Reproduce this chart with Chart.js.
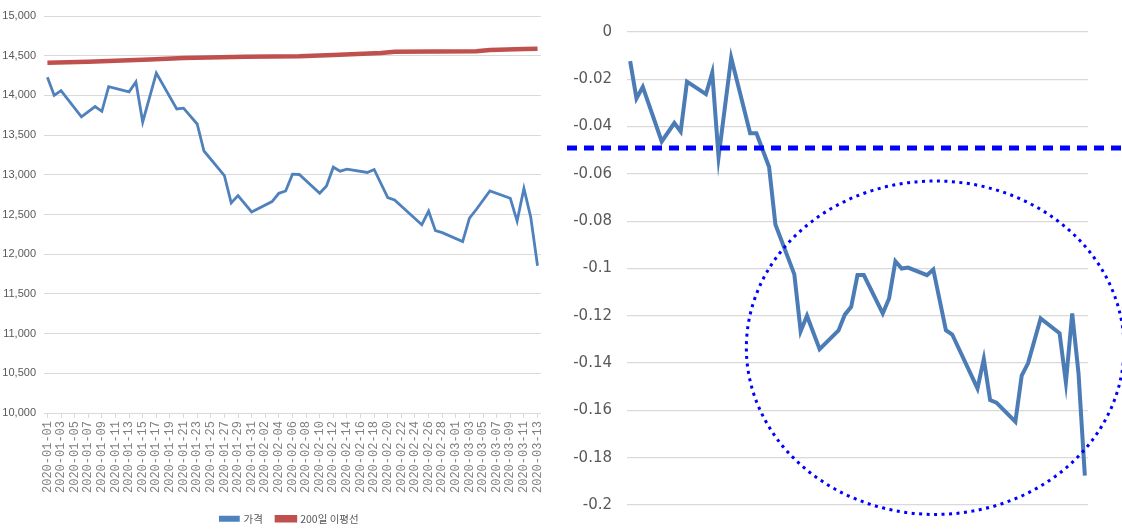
<!DOCTYPE html>
<html>
<head>
<meta charset="utf-8">
<script src="https://cdn.jsdelivr.net/npm/chart.js@4.4.1/dist/chart.umd.min.js"></script>
<style>
  html, body { margin: 0; padding: 0; background: #ffffff; }
  #wrap { position: relative; width: 1122px; height: 529px; overflow: hidden; }
  #leftBox { position: absolute; left: 0; top: 0; width: 555px; height: 529px; }
  #rightBox { position: absolute; left: 555px; top: 0; width: 567px; height: 529px; }
</style>
</head>
<body>
<div id="wrap">
  <div id="leftBox"><canvas id="left"></canvas></div>
  <div id="rightBox"><canvas id="right"></canvas></div>
</div>
<script>
// ---- Categories (calendar days on the date axis) ----
const calendarDays = [
  '2020-01-01','2020-01-02','2020-01-03','2020-01-04','2020-01-05','2020-01-06','2020-01-07','2020-01-08',
  '2020-01-09','2020-01-10','2020-01-11','2020-01-12','2020-01-13','2020-01-14','2020-01-15','2020-01-16',
  '2020-01-17','2020-01-18','2020-01-19','2020-01-20','2020-01-21','2020-01-22','2020-01-23','2020-01-24',
  '2020-01-25','2020-01-26','2020-01-27','2020-01-28','2020-01-29','2020-01-30','2020-01-31','2020-02-01',
  '2020-02-02','2020-02-03','2020-02-04','2020-02-05','2020-02-06','2020-02-07','2020-02-08','2020-02-09',
  '2020-02-10','2020-02-11','2020-02-12','2020-02-13','2020-02-14','2020-02-15','2020-02-16','2020-02-17',
  '2020-02-18','2020-02-19','2020-02-20','2020-02-21','2020-02-22','2020-02-23','2020-02-24','2020-02-25',
  '2020-02-26','2020-02-27','2020-02-28','2020-02-29','2020-03-01','2020-03-02','2020-03-03','2020-03-04',
  '2020-03-05','2020-03-06','2020-03-07','2020-03-08','2020-03-09','2020-03-10','2020-03-11','2020-03-12',
  '2020-03-13'
];

// ---- Left panel: price (가격) ----
const priceDates = [
  '2020-01-01','2020-01-02','2020-01-03','2020-01-06','2020-01-08','2020-01-09','2020-01-10','2020-01-13',
  '2020-01-14','2020-01-15','2020-01-17','2020-01-20','2020-01-21','2020-01-23','2020-01-24','2020-01-27',
  '2020-01-28','2020-01-29','2020-01-31','2020-02-03','2020-02-04','2020-02-05','2020-02-06','2020-02-07',
  '2020-02-10','2020-02-11','2020-02-12','2020-02-13','2020-02-14','2020-02-17','2020-02-18','2020-02-20',
  '2020-02-21','2020-02-25','2020-02-26','2020-02-27','2020-02-28','2020-03-02','2020-03-03','2020-03-04',
  '2020-03-06','2020-03-09','2020-03-10','2020-03-11','2020-03-12','2020-03-13'
];
const priceValues = [
  14230, 14000, 14060, 13730, 13860, 13800, 14110, 14045,
  14170, 13665, 14280, 13830, 13840, 13640, 13300, 12990,
  12646, 12738, 12533, 12663, 12767, 12796, 13008, 13004,
  12767, 12858, 13096, 13046, 13071, 13029, 13067, 12713,
  12683, 12371, 12542, 12296, 12271, 12158, 12454, 12563,
  12796, 12704, 12417, 12829, 12467, 11854
];

// ---- Left panel: 200-day moving average (200일 이평선) ----
const maDates = [
  '2020-01-01','2020-01-07','2020-01-16','2020-01-21','2020-01-30','2020-02-07','2020-02-12',
  '2020-02-19','2020-02-21','2020-03-04','2020-03-06','2020-03-11','2020-03-13'
];
const maValues = [
  14412, 14425, 14452, 14472, 14486, 14493, 14508,
  14535, 14550, 14556, 14572, 14585, 14588
];

// ---- Right panel: deviation from the moving average ----
const devDates = [
  '2020-01-01','2020-01-02','2020-01-03','2020-01-06','2020-01-08','2020-01-09','2020-01-10','2020-01-13',
  '2020-01-14','2020-01-15','2020-01-17','2020-01-20','2020-01-21','2020-01-23','2020-01-24','2020-01-27',
  '2020-01-28','2020-01-29','2020-01-31','2020-02-03','2020-02-04','2020-02-05','2020-02-06','2020-02-07',
  '2020-02-10','2020-02-11','2020-02-12','2020-02-13','2020-02-14','2020-02-17','2020-02-18','2020-02-20',
  '2020-02-21','2020-02-25','2020-02-26','2020-02-27','2020-02-28','2020-03-02','2020-03-03','2020-03-04',
  '2020-03-06','2020-03-09','2020-03-10','2020-03-11','2020-03-12','2020-03-13'
];
const devValues = [
  -0.0123, -0.0281, -0.0232, -0.0463, -0.0385, -0.0421, -0.0210, -0.0263,
  -0.0172, -0.0529, -0.0109, -0.0428, -0.0428, -0.0571, -0.0814, -0.1025,
  -0.1265, -0.1200, -0.1341, -0.1262, -0.1195, -0.1162, -0.1028, -0.1028,
  -0.1190, -0.1127, -0.0969, -0.1000, -0.0996, -0.1028, -0.1004, -0.1261,
  -0.1279, -0.1507, -0.1383, -0.1556, -0.1567, -0.1648, -0.1453, -0.1401,
  -0.1211, -0.1274, -0.1482, -0.1190, -0.1444, -0.1876
];

// ---- Tick settings ----
const leftTicks = { min: 10000, max: 15000, step: 500 };
const rightTicks = { min: -0.2, max: 0, step: 0.02 };

// ---- Annotations on the right panel (data units) ----
const thresholdValue = -0.049;
const ellipseSpec = { centerDay: 48.3, centerValue: -0.1335, halfWidthDays: 29.9, halfHeightValue: 0.0705 };

const legendNames = ['가격', '200일 이평선'];

function pts(dates, vals) { return dates.map((d, i) => ({ x: d, y: vals[i] })); }

const BLUE = '#4f81bd';
const RED = '#c0504d';
const GRID = '#d9d9d9';
const TXT = '#595959';

const LEGEND_PAD = 14;
const LEGEND_FONT = 10.5;

// nudges the bottom legend to where the reference places it
const legendNudge = {
  id: 'legendNudge',
  afterLayout(chart) {
    const lg = chart.legend;
    if (!lg) return;
    lg.top += 5; lg.bottom += 5;
    lg.left += 17; lg.right += 17;
  }
};

// ---------- Left chart ----------
new Chart(document.getElementById('left'), {
  type: 'line',
  data: {
    labels: calendarDays,
    datasets: [
      { label: legendNames[0], data: pts(priceDates, priceValues), borderColor: BLUE, backgroundColor: BLUE,
        borderWidth: 2.8, pointRadius: 0, tension: 0, spanGaps: true },
      { label: legendNames[1], data: pts(maDates, maValues), borderColor: RED, backgroundColor: RED,
        borderWidth: 4.5, pointRadius: 0, tension: 0, spanGaps: true }
    ]
  },
  options: {
    responsive: true, maintainAspectRatio: false, animation: false,
    layout: { padding: { top: 16, right: 10, left: 0, bottom: 0 } },
    plugins: {
      tooltip: { enabled: false },
      legend: {
        position: 'bottom',
        labels: { boxWidth: 18, boxHeight: 3, padding: LEGEND_PAD, color: TXT,
          font: { family: "'Noto Sans CJK KR', 'Liberation Sans', sans-serif", size: LEGEND_FONT } }
      }
    },
    scales: {
      x: {
        type: 'category', offset: true,
        afterFit: (s) => { s.height = 116 - (LEGEND_FONT + LEGEND_PAD + 10); },
        grid: { display: true, drawOnChartArea: false, tickLength: 5, offset: false,
          color: (c) => (c.index % 2 === 0 ? GRID : 'rgba(0,0,0,0)') },
        border: { display: true, color: GRID },
        ticks: {
          autoSkip: false, minRotation: 90, maxRotation: 90, padding: 3, color: '#808080',
          font: { family: "'Liberation Mono', 'DejaVu Sans Mono', monospace", size: 12 },
          callback: function (v, i) { return i % 2 === 0 ? this.getLabelForValue(v) : ''; }
        }
      },
      y: {
        min: leftTicks.min, max: leftTicks.max,
        afterFit: (s) => { s.width = 44; },
        grid: { color: GRID, drawTicks: false },
        border: { display: false },
        ticks: {
          stepSize: leftTicks.step, padding: 8, color: TXT,
          font: { family: "'Liberation Sans Narrow', 'Liberation Sans', sans-serif", size: 11 },
          callback: (v) => v.toLocaleString('en-US')
        }
      }
    }
  },
  plugins: [legendNudge]
});

// ---------- Right chart ----------
const annotationPlugin = {
  id: 'annot',
  afterDatasetsDraw(chart) {
    const { ctx, scales: { x, y }, chartArea } = chart;
    ctx.save();
    // threshold dashed line
    const yy = y.getPixelForValue(thresholdValue);
    ctx.strokeStyle = '#0000ff';
    ctx.lineWidth = 5;
    ctx.setLineDash([10, 7]);
    ctx.beginPath();
    ctx.moveTo(chartArea.left - 60, yy);
    ctx.lineTo(chart.width, yy);
    ctx.stroke();
    // dotted ellipse
    const cx = x.getPixelForValue(ellipseSpec.centerDay);
    const rx = x.getPixelForValue(ellipseSpec.centerDay + ellipseSpec.halfWidthDays) - cx;
    const cy = y.getPixelForValue(ellipseSpec.centerValue);
    const ry = y.getPixelForValue(ellipseSpec.centerValue - ellipseSpec.halfHeightValue) - cy;
    ctx.lineWidth = 3;
    ctx.setLineDash([3, 4.5]);
    ctx.beginPath();
    ctx.ellipse(cx, cy, rx, ry, 0, 0, Math.PI * 2);
    ctx.stroke();
    ctx.restore();
  }
};

new Chart(document.getElementById('right'), {
  type: 'line',
  data: {
    labels: calendarDays,
    datasets: [
      { label: 'dev', data: pts(devDates, devValues), borderColor: '#4c7cb6', backgroundColor: '#4c7cb6',
        borderWidth: 4, pointRadius: 0, tension: 0, spanGaps: true }
    ]
  },
  options: {
    responsive: true, maintainAspectRatio: false, animation: false,
    layout: { padding: { top: 32, right: 34, left: 0, bottom: 21 } },
    plugins: { legend: { display: false }, tooltip: { enabled: false } },
    scales: {
      x: { type: 'category', offset: true, display: false },
      y: {
        min: rightTicks.min, max: rightTicks.max,
        afterFit: (s) => { s.width = 72; },
        grid: { color: GRID, drawTicks: false, lineWidth: 1.3 },
        border: { display: false },
        ticks: {
          stepSize: rightTicks.step, padding: 15, color: TXT,
          font: { family: "'DejaVu Sans', sans-serif", size: 15 },
          callback: (v) => String(Number(v.toFixed(2)))
        }
      }
    }
  },
  plugins: [annotationPlugin]
});
</script>
</body>
</html>
